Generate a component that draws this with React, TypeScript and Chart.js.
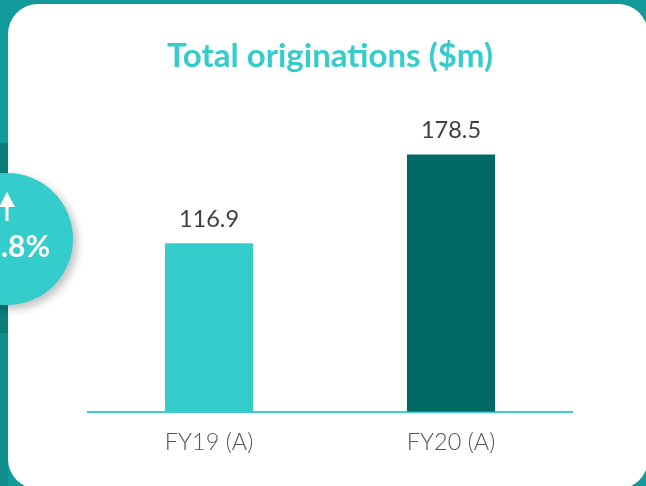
import React, { useEffect, useRef } from "react";
import { Chart, registerables } from "chart.js";

Chart.register(...registerables);

const categories = ["FY19 (A)", "FY20 (A)"];
const originations = [116.9, 178.5];
const barColors = ["#35CCCC", "#006966"];
const valueLabels = ["116.9", "178.5"];
const titleText = "Total originations ($m)";
const badgeText = "52.8%";

const valueLabelPlugin = {
  id: "valueLabels",
  afterDatasetsDraw(chart: any) {
    const { ctx } = chart;
    const meta = chart.getDatasetMeta(0);
    ctx.save();
    ctx.font = "23.5px Lato";
    ctx.fillStyle = "#404040";
    ctx.textAlign = "center";
    ctx.textBaseline = "middle";
    meta.data.forEach((bar: any, i: number) => {
      ctx.fillText(valueLabels[i], bar.x, bar.y - 24);
    });
    ctx.restore();
  },
};

export default function App() {
  const ref = useRef<HTMLCanvasElement>(null);

  useEffect(() => {
    document.body.style.margin = "0";
    const chart = new Chart(ref.current as HTMLCanvasElement, {
      type: "bar",
      data: {
        labels: categories,
        datasets: [
          {
            data: originations,
            backgroundColor: barColors,
            borderWidth: 0,
            categoryPercentage: 1,
            barPercentage: 0.364,
          },
        ],
      },
      options: {
        responsive: false,
        animation: false,
        layout: { padding: { left: 88, right: 74, top: 37, bottom: 12 } },
        plugins: {
          legend: { display: false },
          tooltip: { enabled: false },
          title: {
            display: true,
            text: titleText,
            color: "#35CCCC",
            font: { family: "Lato", size: 33, weight: "bold" },
            padding: { top: 0, bottom: 47 },
          },
        },
        scales: {
          x: {
            grid: { display: false, drawTicks: false, tickLength: 0 },
            border: { display: true, color: "#3CCCCC", width: 2 },
            ticks: {
              color: "#555555",
              font: { family: "Lato", size: 23.5, weight: 300 },
              padding: 17,
            },
          },
          y: {
            display: false,
            min: 0,
            max: 200,
          },
        },
      },
      plugins: [valueLabelPlugin],
    });
    return () => chart.destroy();
  }, []);

  return (
    <div
      style={{
        position: "fixed",
        left: 0,
        top: 0,
        width: 646,
        height: 486,
        overflow: "hidden",
        background: "#12999A",
      }}
    >
      <div style={{ position: "absolute", left: 0, top: 143, width: 8, height: 190, background: "#0B7D7D" }} />
      <div style={{ position: "absolute", left: 0, top: 333, width: 8, height: 160, background: "#0F8E8E" }} />
      <div
        style={{
          position: "absolute",
          left: 8,
          top: 4,
          width: 640,
          height: 485,
          background: "#FFFFFF",
          borderRadius: 30,
        }}
      />
      <canvas
        ref={ref}
        width={646}
        height={486}
        style={{ position: "absolute", left: 0, top: 0, width: 646, height: 486 }}
      />
      <div
        style={{
          position: "absolute",
          left: 7 - 66,
          top: 239 - 66,
          width: 132,
          height: 132,
          borderRadius: "50%",
          background: "#35CCCC",
          boxShadow: "4px 4px 8px rgba(0,0,0,0.25)",
        }}
      />
      <svg style={{ position: "absolute", left: 0, top: 0 }} width={80} height={486}>
        <line x1={7} y1={203} x2={7} y2={221} stroke="#FFFFFF" strokeWidth={3} />
        <polygon points="7,192 15,207 -1,207" fill="#FFFFFF" />
        <text
          x={50}
          y={257}
          textAnchor="end"
          fill="#FFFFFF"
          style={{ font: "bold 30px Lato" }}
        >
          {badgeText}
        </text>
      </svg>
    </div>
  );
}
